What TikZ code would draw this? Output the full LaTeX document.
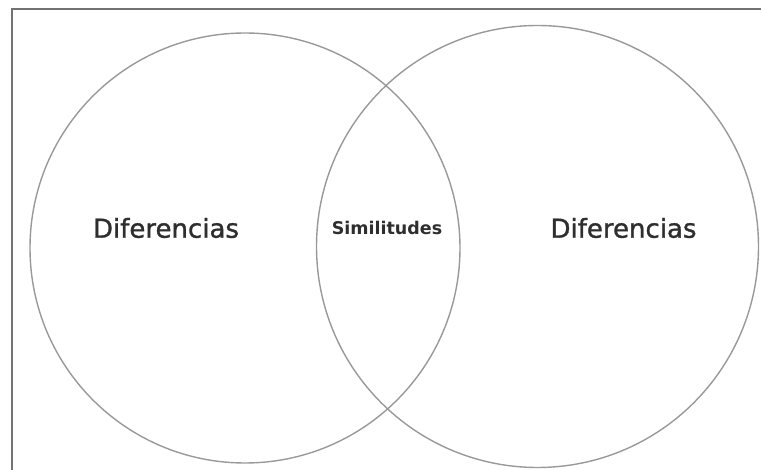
\documentclass[tikz,border=0pt]{standalone}
\usepackage{fontspec}
\setmainfont{DejaVu Sans}
\newfontfamily\medfont[FakeBold=1.2]{DejaVu Sans}
\begin{document}
\begin{tikzpicture}[x=1pt,y=1pt,
  venn/.style={draw=black!40, line width=1.4pt},
  frameline/.style={draw=black!55, line width=2pt},
  lbl/.style={text=black!82, inner sep=0pt, font=\medfont\fontsize{26}{30}\selectfont},
  midlbl/.style={text=black!82, inner sep=0pt, font=\bfseries\fontsize{17.5}{21}\selectfont}]
\useasboundingbox (0,0) rectangle (761,469);
\begin{scope}
\clip (0,0) rectangle (761,469);
\draw[frameline] (12,-5) -- (12,460) -- (770,460);
\node[venn, circle, minimum size=430pt, inner sep=0pt] (left) at (245,221) {};
\node[venn, circle, minimum size=442pt, inner sep=0pt] (right) at (537.5,222.5) {};
\end{scope}
\node[lbl] (dl) at (166,241) {Diferencias};
\node[lbl] (dr) at (623.5,241) {Diferencias};
\node[midlbl] (sim) at (387,241) {Similitudes};
\end{tikzpicture}
\end{document}
